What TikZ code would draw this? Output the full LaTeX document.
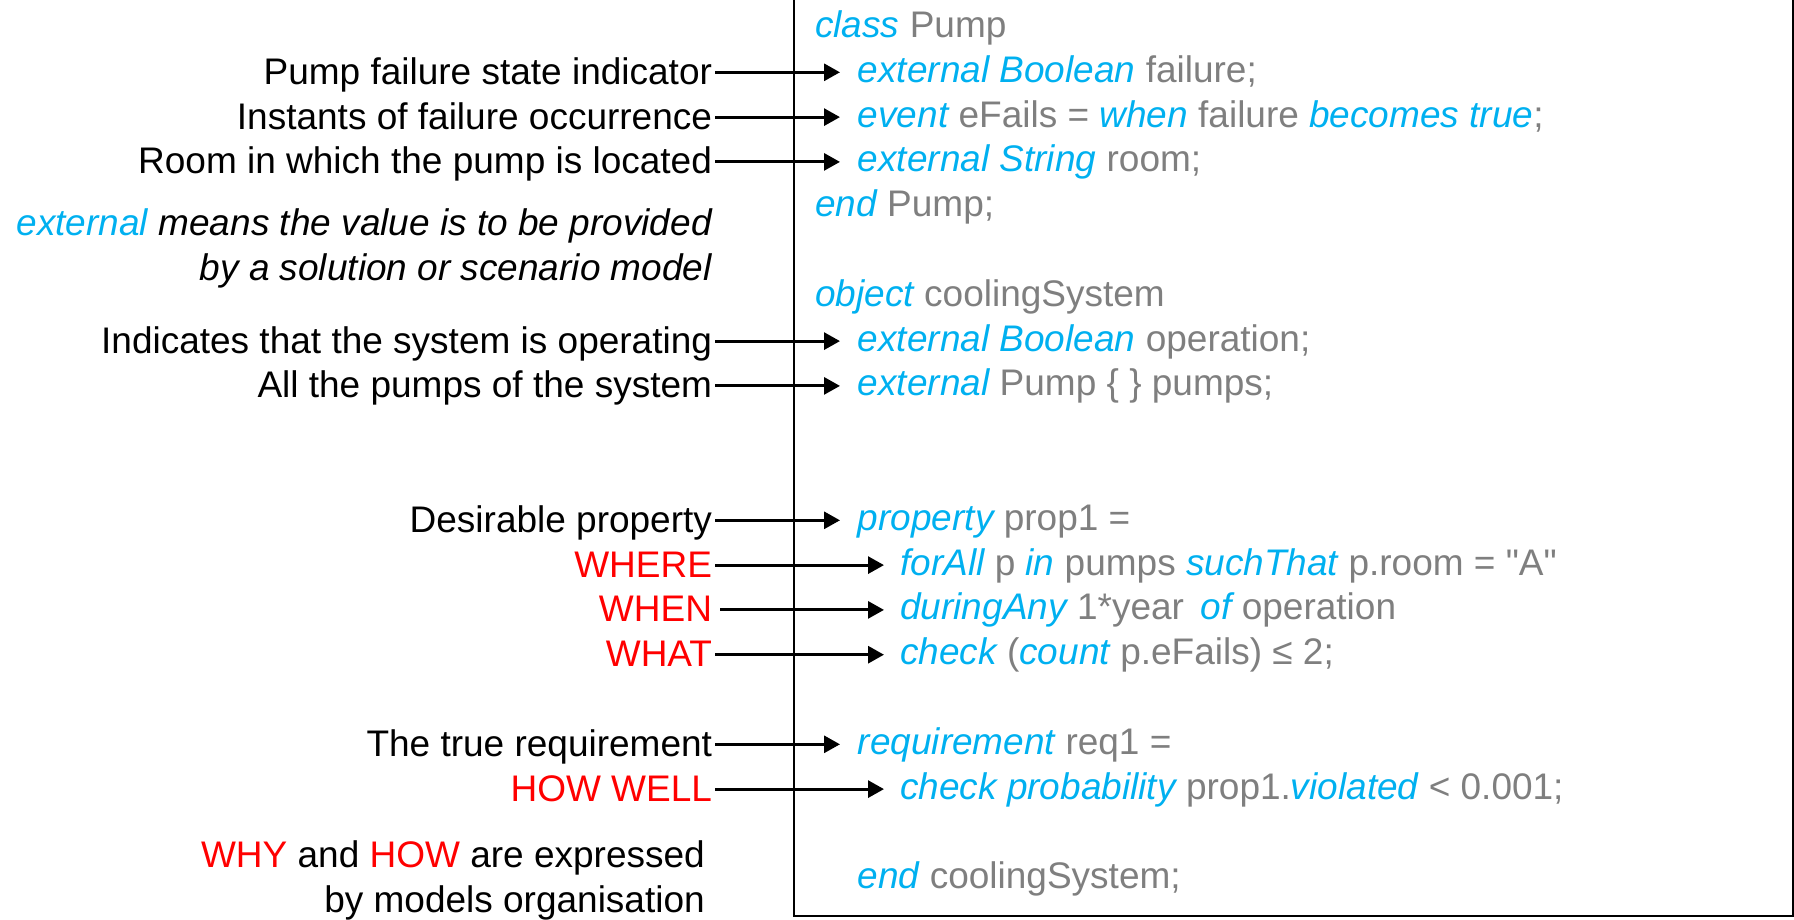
\documentclass[tikz,border=0pt]{standalone}
\usepackage{fontspec}
\setmainfont{Liberation Sans}
\newfontfamily\plainq[Ligatures=TeXOff]{Liberation Sans}
\usetikzlibrary{arrows.meta,calc}
\definecolor{kwblue}{HTML}{00B0F0}
\definecolor{codegray}{HTML}{7F7F7F}
\definecolor{qred}{HTML}{FF0000}
\newcommand{\kw}[1]{\textcolor{kwblue}{\itshape #1}}
\newcommand{\qw}[1]{\textcolor{qred}{#1}}
\newcommand{\sq}{{\plainq\char34\relax}}
\begin{document}
\begin{tikzpicture}[x=1pt,y=-1pt,
  every node/.style={inner sep=0pt, font=\fontsize{37}{44.8}\selectfont},
  code/.style={anchor=base west, text=codegray},
  lbl/.style={anchor=base east, outer xsep=3pt, text=black},
  note/.style={anchor=base east, text=black},
  arr/.style={line width=3pt, -{Triangle[length=16pt,width=17pt]}},
  frame/.style={line width=2pt, draw=black}]
\useasboundingbox (0,0) rectangle (1794,919);

% frame
\draw[frame] (794,-3) -- (794,916) -- (1792.5,916) -- (1792.5,-3);

% code lines
\node[code] (c0)  at (815,37.5)   {\kw{class} Pump};
\node[code] (c1)  at (857.6,82.3) {\kw{external Boolean} failure;};
\node[code] (c2)  at (857.6,127.1) {\kw{event} eFails = \kw{when} failure \kw{becomes true};};
\node[code] (c3)  at (857.6,171.9) {\kw{external String} room;};
\node[code] (c4)  at (815,216.7)  {\kw{end} Pump;};
\node[code] (c6)  at (815,306.3)  {\kw{object} coolingSystem};
\node[code] (c7)  at (857.6,351.1) {\kw{external Boolean} operation;};
\node[code] (c8)  at (857.6,395.9) {\kw{external} Pump \{ \} pumps;};
\node[code] (c11) at (857.6,530.3) {\kw{property} prop1 =};
\node[code] (c12) at (900,575.1)  {\kw{forAll} p \kw{in} pumps \kw{suchThat} p.room = \sq A\sq};
\node[code] (c13) at (900,619.9)  {\kw{duringAny} 1*year\hspace{0.45em}\kw{of} operation};
\node[code] (c14) at (900,664.7)  {\kw{check} (\kw{count} p.eFails) ≤ 2;};
\node[code] (c16) at (857.6,754.3) {\kw{requirement} req1 =};
\node[code] (c17) at (900,799.1)  {\kw{check probability} prop1.\kw{violated} < 0.001;};
\node[code] (c19) at (857.6,888.7) {\kw{end} coolingSystem;};

% left labels
\node[lbl] (l1)  at (715,84.3)  {Pump failure state indicator};
\node[lbl] (l2)  at (715,129.1) {Instants of failure occurrence};
\node[lbl] (l3)  at (715,173.9) {Room in which the pump is located};
\node[note] (n1a) at (712,235) {\itshape\textcolor{kwblue}{external} means the value is to be provided};
\node[note] (n1b) at (712,280) {\itshape by a solution or scenario model};
\node[lbl] (l7)  at (715,353.1) {Indicates that the system is operating};
\node[lbl] (l8)  at (715,397.9) {All the pumps of the system};
\node[lbl] (l11) at (715,532.3) {Desirable property};
\node[lbl] (l12) at (715,577.1) {\qw{WHERE}};
\node[lbl,outer xsep=8pt] (l13) at (720,621.9) {\qw{WHEN}};
\node[lbl] (l14) at (715,666.7) {\qw{WHAT}};
\node[lbl] (l16) at (715,756.3) {The true requirement};
\node[lbl] (l17) at (715,801.1) {\qw{HOW WELL}};
\node[note] (n2a) at (705,867) {\qw{WHY} and \qw{HOW} are expressed};
\node[note] (n2b) at (705,912) {by models organisation};

% arrow tips
\foreach \i in {1,2,3,7,8,11,16}{
  \coordinate (t\i) at ($(c\i.base west)+(-17.6,-10)$);
}
\foreach \i in {12,13,14,17}{
  \coordinate (t\i) at ($(c\i.base west)+(-16,-10)$);
}
\foreach \i in {1,2,3,7,8,11,12,13,14,16,17}{
  \draw[arr] (l\i.east |- t\i) -- (t\i);
}
\end{tikzpicture}
\end{document}
